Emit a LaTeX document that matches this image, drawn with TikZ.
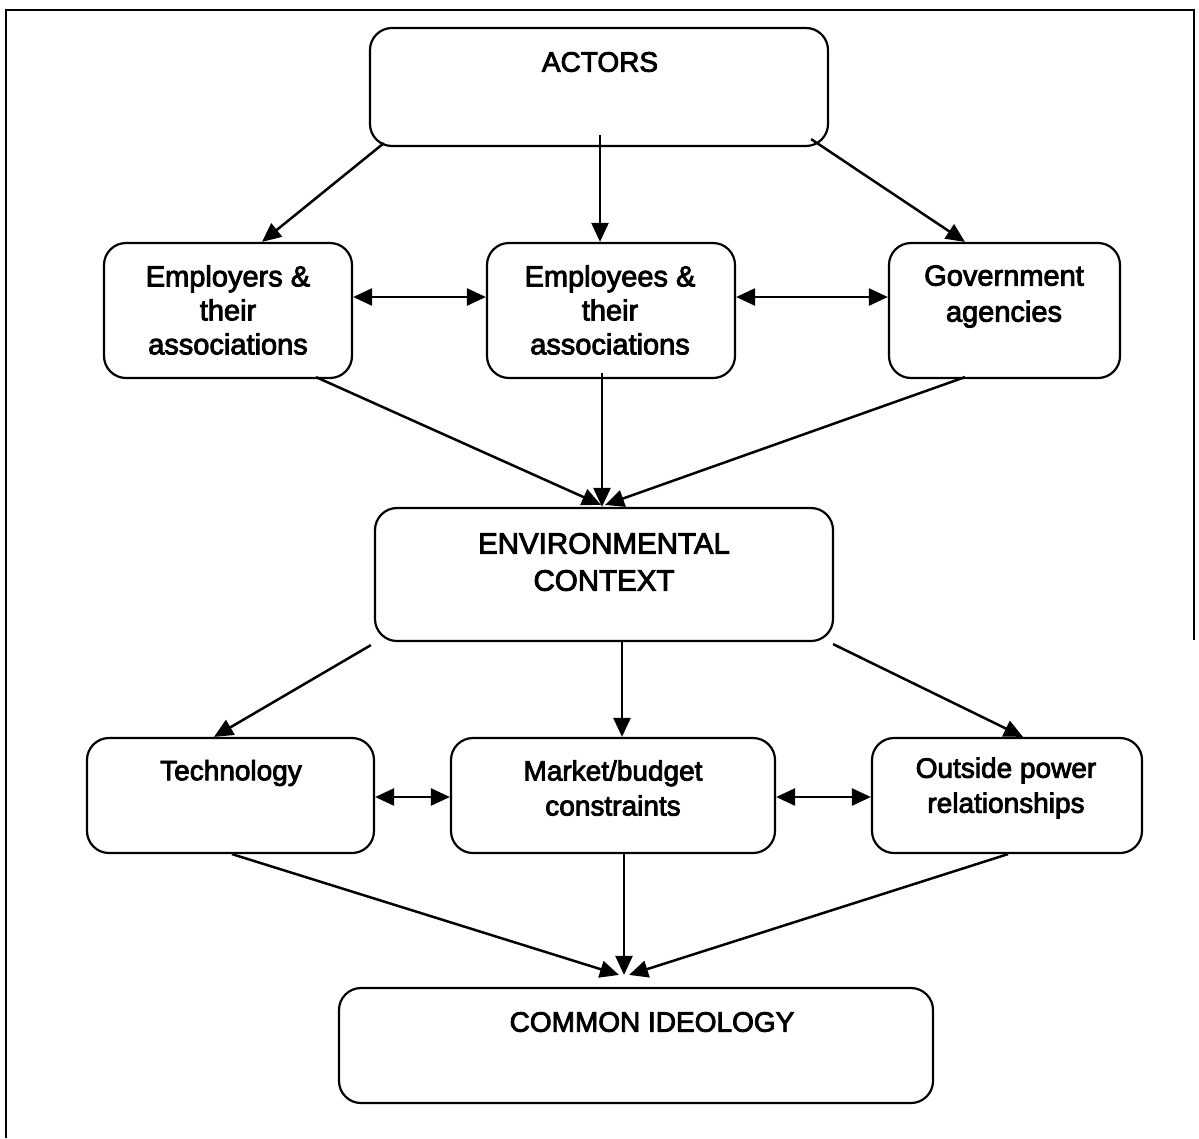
\documentclass[tikz,border=0pt]{standalone}
\usepackage{fontspec}
\setmainfont{Liberation Sans}[BoldFont={Liberation Sans},BoldFeatures={FakeBold=3}]
\usetikzlibrary{arrows.meta}
\begin{document}
\begin{tikzpicture}[x=1pt,y=-1pt,
  box/.style={draw=black,line width=2.2pt,rounded corners=22pt,inner sep=0pt},
  txt/.style={align=center,inner sep=0pt,font=\fontsize{29}{34}\selectfont\bfseries},
  conn/.style={line width=2.5pt,-{Triangle[length=19pt,width=17pt]}},
  biconn/.style={line width=2.5pt,{Triangle[length=19pt,width=17pt]}-{Triangle[length=19pt,width=17pt]}}]
\useasboundingbox (0,0) rectangle (1199,1138);
% outer frame
\draw[line width=2.2pt] (6,1138) -- (6,10) -- (1194,10) -- (1194,640);
% boxes
\node[box,minimum width=458pt,minimum height=118pt] (actors) at (599,87) {};
\node[box,minimum width=248pt,minimum height=135pt] (emp) at (228,310.5) {};
\node[box,minimum width=248pt,minimum height=135pt] (ees) at (611,310.5) {};
\node[box,minimum width=231pt,minimum height=135pt] (gov) at (1004.5,310.5) {};
\node[box,minimum width=458pt,minimum height=133pt] (env) at (604,574.5) {};
\node[box,minimum width=287pt,minimum height=115pt] (tech) at (230.5,795.5) {};
\node[box,minimum width=324pt,minimum height=115pt] (mkt) at (613,795.5) {};
\node[box,minimum width=270pt,minimum height=115pt] (out) at (1007,795.5) {};
\node[box,minimum width=594pt,minimum height=115pt] (com) at (636,1045.5) {};
% texts
\node[txt,font=\fontsize{28}{34}\selectfont\bfseries] (actorsT) at (600,62) {ACTORS};
\node[txt] (empT) at (228,310) {Employers \&\\their\\associations};
\node[txt] (eesT) at (610,310) {Employees \&\\their\\associations};
\node[txt,font=\fontsize{29}{36}\selectfont\bfseries] (govT) at (1004,296.5) {Government\\agencies};
\node[txt,font=\fontsize{29.5}{37}\selectfont\bfseries] (envT) at (604,562) {ENVIRONMENTAL\\CONTEXT};
\node[txt,font=\fontsize{28}{35}\selectfont\bfseries] (techT) at (231,773) {Technology};
\node[txt,font=\fontsize{28}{35}\selectfont\bfseries] (mktT) at (613,788) {Market/budget\\constraints};
\node[txt,font=\fontsize{28}{35}\selectfont\bfseries] (outT) at (1006,788) {Outside power\\relationships};
\node[txt,font=\fontsize{28}{34}\selectfont\bfseries] (comT) at (652,1022) {COMMON IDEOLOGY};
% connectors: actors -> row 1
\draw[conn] ([xshift=15pt,yshift=4pt]actors.south west) -- ([xshift=34pt]emp.north);
\draw[conn] ([xshift=1pt,yshift=12pt]actors.south) -- ([xshift=-11pt]ees.north);
\draw[conn] ([xshift=-18pt,yshift=8pt]actors.south east) -- ([xshift=-39.5pt]gov.north);
\draw[biconn] ([yshift=13.5pt]emp.east) -- ([yshift=13.5pt]ees.west);
\draw[biconn] ([yshift=13.5pt]ees.east) -- ([yshift=13.5pt]gov.west);
% row 1 -> env
\draw[conn] ([xshift=88pt,yshift=2pt]emp.south) -- ([xshift=-3pt,yshift=2pt]env.north);
\draw[conn] ([xshift=-9pt,yshift=6pt]ees.south) -- ([xshift=-2pt]env.north);
\draw[conn] ([xshift=-39.5pt,yshift=2pt]gov.south) -- ([xshift=1pt,yshift=2pt]env.north);
% env -> row 2
\draw[conn] ([xshift=-3pt,yshift=-3pt]env.south west) -- ([xshift=-16.5pt]tech.north);
\draw[conn] ([xshift=18pt]env.south) -- ([xshift=9pt]mkt.north);
\draw[conn] ([xshift=-1pt,yshift=-2pt]env.south east) -- ([xshift=16pt]out.north);
\draw[biconn] ([yshift=-1.5pt]tech.east) -- ([yshift=-1.5pt]mkt.west);
\draw[biconn] ([yshift=-1.5pt]mkt.east) -- ([yshift=-1.5pt]out.west);
% row 2 -> common
\draw[conn] ([xshift=1.5pt]tech.south) -- ([xshift=-17pt,yshift=12pt]com.north);
\draw[conn] ([xshift=11pt]mkt.south) -- ([xshift=-12pt,yshift=12pt]com.north);
\draw[conn] ([xshift=1pt]out.south) -- ([xshift=-7pt,yshift=12pt]com.north);
\end{tikzpicture}
\end{document}
